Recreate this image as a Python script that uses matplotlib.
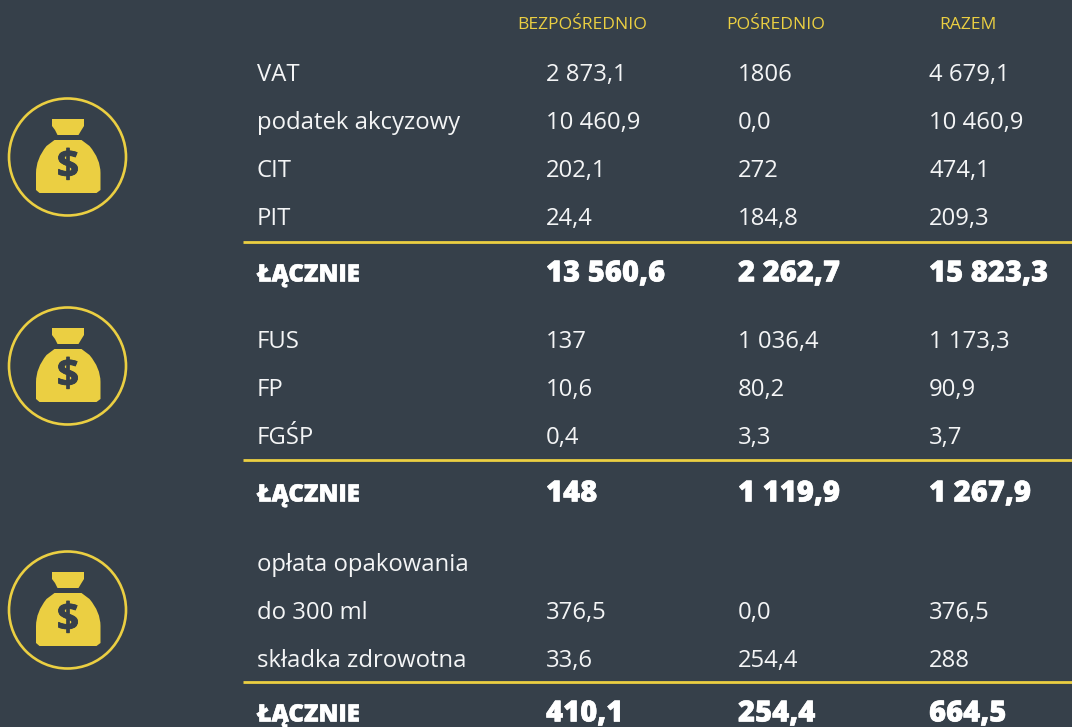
import matplotlib
matplotlib.use("Agg")
import matplotlib.pyplot as plt
import matplotlib.patheffects as pe
from matplotlib.patches import Circle, PathPatch
from matplotlib.path import Path

BG = '#36404a'
YEL = '#ebcf42'
WHITE = '#f4f5f6'

headers = ['BEZPOŚREDNIO', 'POŚREDNIO', 'RAZEM']
labels_a = ['VAT', 'podatek akcyzowy', 'CIT', 'PIT']
direct_a = ['2 873,1', '10 460,9', '202,1', '24,4']
indirect_a = ['1806', '0,0', '272', '184,8']
total_a = ['4 679,1', '10 460,9', '474,1', '209,3']
sum_a = ['13 560,6', '2 262,7', '15 823,3']

labels_b = ['FUS', 'FP', 'FGŚP']
direct_b = ['137', '10,6', '0,4']
indirect_b = ['1 036,4', '80,2', '3,3']
total_b = ['1 173,3', '90,9', '3,7']
sum_b = ['148', '1 119,9', '1 267,9']

labels_c = ['opłata opakowania', 'do 300 ml', 'składka zdrowotna']
direct_c = ['', '376,5', '33,6']
indirect_c = ['', '0,0', '254,4']
total_c = ['', '376,5', '288']
sum_c = ['410,1', '254,4', '664,5']
sum_label = 'ŁĄCZNIE'

plt.rcParams['font.family'] = ['Open Sans', 'DejaVu Sans']

fig = plt.figure(figsize=(10.72, 7.27), dpi=100, facecolor=BG)
ax = fig.add_axes([0, 0, 1, 1])
ax.set_xlim(0, 1072)
ax.set_ylim(727, 0)
ax.axis('off')

col_x = [546, 738, 929]
head_x = [517.5, 726.5, 939.5]
heavy = [pe.withStroke(linewidth=0.4, foreground='white')]
for x, h in zip(head_x, headers):
    ax.text(x, 25, h, color=YEL, fontsize=12.6, va='center', ha='left')


def block(labels, direct, indirect, total, summ, rows_y, line_y, sum_y):
    for i, y in enumerate(rows_y):
        ax.text(257, y + 2, labels[i], color=WHITE, fontsize=17.2, va='center', ha='left')
        for x, col in zip(col_x, [direct, indirect, total]):
            ax.text(x, y + 2, col[i], color=WHITE, fontsize=17.2, va='center', ha='left')
    ax.plot([243, 1072], [line_y, line_y], color=YEL, lw=2, solid_capstyle='butt')
    ax.text(257, sum_y + 2, sum_label, color='white', fontsize=17.2, fontweight='heavy',
            va='center', ha='left', path_effects=heavy)
    for x, s in zip(col_x, summ):
        ax.text(x, sum_y + 1, s, color='white', fontsize=21, fontweight='heavy',
                va='center', ha='left', path_effects=heavy)


block(labels_a, direct_a, indirect_a, total_a, sum_a, [73, 121, 169, 217], 242, 273)
block(labels_b, direct_b, indirect_b, total_b, sum_b, [340, 388, 436], 460, 493)
block(labels_c, direct_c, indirect_c, total_c, sum_c, [563, 611, 659], 682, 713)


def bag(cy):
    # money bag icon, cy = centre of the ring
    cx = 67.5
    ax.add_patch(Circle((cx, cy), 58.5, fill=False, ec=YEL, lw=1.9))
    neck = [(-15.5, -38), (16.5, -38), (16.5, -31), (14, -27), (11, -22), (-10, -22), (-12.5, -27), (-15.5, -31)]
    ax.add_patch(plt.Polygon([(cx + a, cy + b) for a, b in neck], fc=YEL, ec='none'))
    verts = [(-10, -17), (11, -17), (14, -17), (22, -11), (33, 2), (33, 16), (33, 33), (29, 36), (-28, 36),
             (-31.5, 33), (-31.5, 16), (-31.5, 2), (-21, -11), (-13, -17), (-10, -17)]
    codes = [Path.MOVETO, Path.LINETO, Path.LINETO, Path.LINETO, Path.CURVE3, Path.LINETO, Path.LINETO, Path.LINETO, Path.LINETO,
             Path.LINETO, Path.LINETO, Path.CURVE3, Path.LINETO, Path.LINETO, Path.LINETO]
    ax.add_patch(PathPatch(Path([(cx + a, cy + b) for a, b in verts], codes), fc=YEL, ec='none'))
    ax.text(cx + 0.5, cy + 10, '$', color=BG, fontsize=28, fontweight='bold', va='center', ha='center',
            path_effects=[pe.withStroke(linewidth=0.6, foreground=BG)])


bag(157)
bag(366)
bag(610)

fig.savefig('out.png', dpi=100, facecolor=BG)
